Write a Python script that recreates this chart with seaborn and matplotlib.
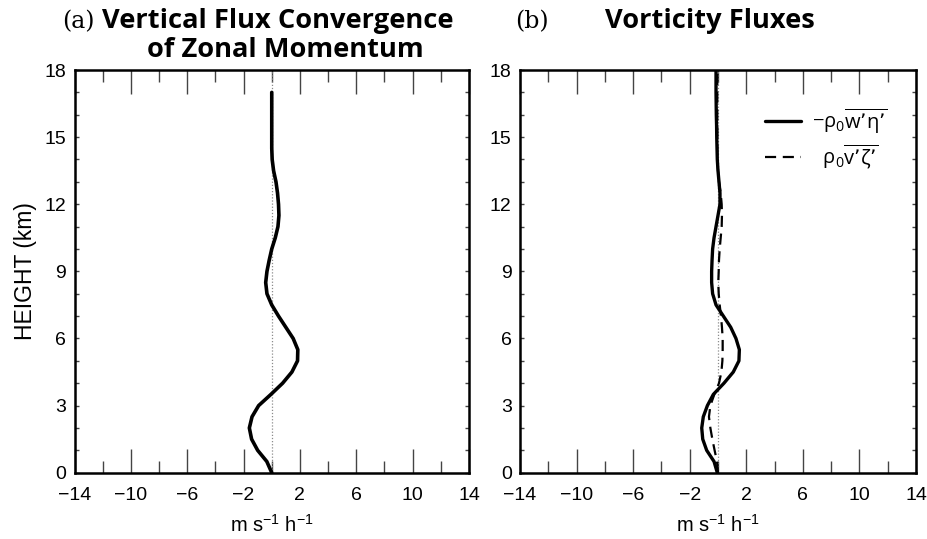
import matplotlib
matplotlib.use("Agg")
import matplotlib.pyplot as plt
from matplotlib.ticker import MultipleLocator, FixedLocator
import numpy as np
import pandas as pd
import seaborn as sns

# Heights (km) and fluxes (m s-1 h-1)
height_a = [0.0, 0.5, 1.0, 1.5, 2.0, 2.5, 3.0, 3.5, 4.0, 4.5, 5.0, 5.5, 6.0,
            6.5, 7.0, 7.5, 8.0, 8.5, 9.0, 9.5, 10.0, 10.5, 11.0, 11.5, 12.0,
            12.5, 13.0, 13.5, 14.0, 14.5, 15.0, 15.5, 16.0, 16.5, 17.0]
flux_conv = [0.0, -0.35, -1.0, -1.43, -1.59, -1.4, -0.93, -0.06, 0.77, 1.43,
             1.83, 1.85, 1.52, 1.0, 0.48, 0.0, -0.34, -0.43, -0.34, -0.18,
             0.0, 0.25, 0.44, 0.51, 0.48, 0.41, 0.3, 0.13, 0.03, 0.0, 0.0,
             0.0, 0.0, 0.0, 0.0]

height_b = [0.0, 0.5, 1.0, 1.5, 2.0, 2.5, 3.0, 3.5, 4.0, 4.5, 5.0, 5.5, 6.0,
            6.5, 7.0, 7.5, 8.0, 8.5, 9.0, 9.5, 10.0, 10.5, 11.0, 11.5, 12.0,
            12.5, 13.0, 13.5, 14.0, 14.5, 15.0, 15.5, 16.0, 16.5, 17.0, 17.5,
            18.0]
flux_w_eta = [-0.05, -0.28, -0.8, -1.08, -1.15, -1.04, -0.75, -0.33, 0.42,
              1.08, 1.48, 1.51, 1.27, 0.9, 0.38, -0.14, -0.38, -0.45, -0.45,
              -0.42, -0.38, -0.28, -0.14, 0.0, 0.14, 0.14, 0.07, 0.0, -0.05,
              -0.07, -0.09, -0.1, -0.12, -0.13, -0.14, -0.14, -0.14]
flux_v_zeta = [0.0, -0.07, -0.24, -0.4, -0.54, -0.64, -0.54, -0.26, 0.07,
               0.24, 0.31, 0.33, 0.33, 0.28, 0.21, 0.12, 0.05, 0.02, 0.05,
               0.07, 0.12, 0.19, 0.26, 0.28, 0.26, 0.19, 0.07, 0.0, -0.05,
               -0.05, -0.05, -0.05, -0.05, -0.05, -0.05, -0.05, -0.05]

xticks_major = [-14, -10, -6, -2, 2, 6, 10, 14]
xticks_minor = [-12, -8, -4, 0, 4, 8, 12]
yticks_major = [0, 3, 6, 9, 12, 15, 18]

label_w_eta = r"$\mathregular{-ρ_0\overline{w’η’}}$"
label_v_zeta = r"$\mathregular{\;\;ρ_0\overline{v’ζ’}}$"

sns.set_theme(style="ticks")
sans = ["Liberation Sans", "DejaVu Sans"]
plt.rcParams["font.family"] = sans
plt.rcParams["axes.unicode_minus"] = True
plt.rcParams["text.color"] = "black"
plt.rcParams["axes.labelcolor"] = "black"
plt.rcParams["xtick.labelcolor"] = "black"
plt.rcParams["ytick.labelcolor"] = "black"

fig = plt.figure(figsize=(9.28, 5.39), dpi=100)
W, H = 928.0, 539.0
bottom = 1 - 472.7 / H
height = 402.7 / H
ax1 = fig.add_axes([74.5 / W, bottom, 394.5 / W, height])
ax2 = fig.add_axes([520.0 / W, bottom, 396.0 / W, height])

df_a = pd.DataFrame({"height": height_a, "flux": flux_conv})
df_b = pd.DataFrame({"height": height_b, "w_eta": flux_w_eta,
                     "v_zeta": flux_v_zeta})

for ax in (ax1, ax2):
    ax.plot([0, 0], [0, 18], color="#8c8c8c", lw=0.9, ls=(0, (1, 1.5)),
            zorder=1)

sns.lineplot(data=df_a, x="flux", y="height", orient="y", estimator=None,
             color="black", lw=2.6, ax=ax1)
sns.lineplot(data=df_b, x="w_eta", y="height", orient="y", estimator=None,
             color="black", lw=2.4, ax=ax2, label=label_w_eta)
sns.lineplot(data=df_b, x="v_zeta", y="height", orient="y", estimator=None,
             color="black", lw=1.6, linestyle=(0, (5, 3)), ax=ax2,
             label=label_v_zeta)

for ax in (ax1, ax2):
    ax.set_xlim(-14, 14)
    ax.set_ylim(0, 18)
    ax.xaxis.set_major_locator(FixedLocator(xticks_major))
    ax.xaxis.set_minor_locator(FixedLocator(xticks_minor))
    ax.yaxis.set_major_locator(FixedLocator(yticks_major))
    ax.yaxis.set_minor_locator(MultipleLocator(1))
    ax.tick_params(axis="x", which="major", direction="in", length=17.5,
                   width=1.0, color="#444444", top=True, bottom=True,
                   labelsize=14, pad=10.5)
    ax.tick_params(axis="x", which="minor", direction="in", length=8.8,
                   width=1.0, color="#444444", top=True, bottom=True)
    ax.tick_params(axis="y", which="both", direction="in", length=3,
                   width=1.0, color="#444444", left=True, right=True,
                   labelsize=14, pad=6)
    for s in ax.spines.values():
        s.set_linewidth(1.8)
        s.set_color("black")
    ax.set_xlabel("m s$^{\\mathregular{-1}}$ h$^{\\mathregular{-1}}$",
                  fontsize=14.5, labelpad=7)
    ax.set_ylabel("")

ax1.set_ylabel("HEIGHT (km)", fontsize=16.5, labelpad=5)

leg = ax2.legend(loc="upper right", bbox_to_anchor=(0.972, 0.955),
                 frameon=False, handlelength=1.75, handletextpad=0.55,
                 labelspacing=0.3,
                 prop={"family": ["Open Sans", "DejaVu Sans"], "size": 14.5})

# Panel titles
title_font = dict(family="Open Sans", weight="bold", fontsize=19.6,
                  va="baseline", ha="left")
fig.text(62 / W, 1 - 28.5 / H, "(a)", family="DejaVu Serif", fontsize=17,
         va="baseline", ha="left")
fig.text(102 / W, 1 - 28.5 / H, "Vertical Flux Convergence", **title_font)
fig.text(147 / W, 1 - 57 / H, "of Zonal Momentum", **title_font)
fig.text(515 / W, 1 - 28.5 / H, "(b)", family="DejaVu Serif", fontsize=17,
         va="baseline", ha="left")
fig.text(605 / W, 1 - 28.5 / H, "Vorticity Fluxes", **title_font)

fig.savefig("out.png", dpi=100)
